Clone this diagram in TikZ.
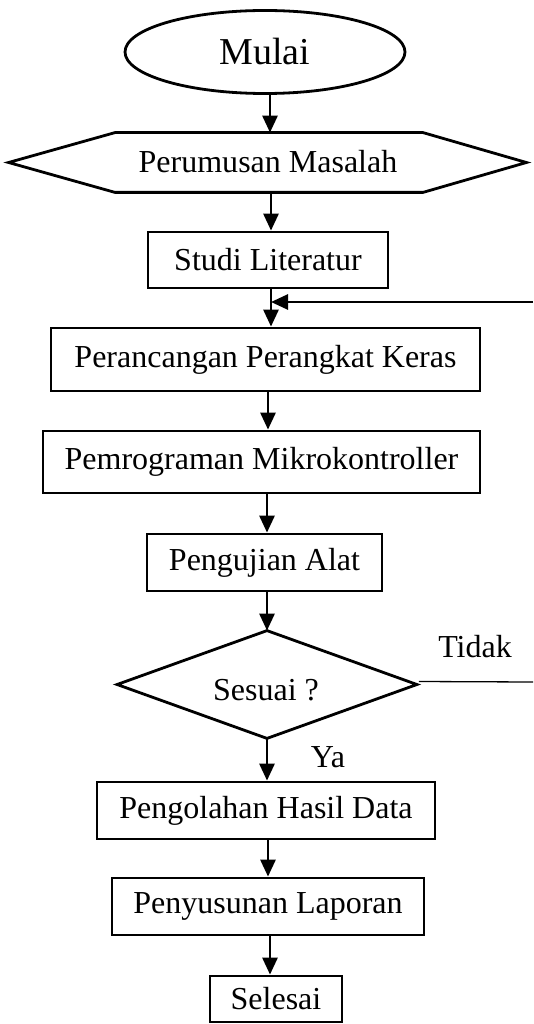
\documentclass[tikz,border=0pt]{standalone}
\usepackage{fontspec}
\setmainfont{Liberation Serif}
\usetikzlibrary{arrows.meta,shapes.geometric}
\begin{document}
\begin{tikzpicture}[x=1pt,y=-1pt,line width=2.8pt,
  txt/.style={font=\fontsize{32}{38}\selectfont},
  box/.style={draw,rectangle,inner sep=0pt,txt},
  shapebox/.style={rectangle,inner sep=0pt},
  arr/.style={-{Triangle[length=17pt,width=15pt]},line width=2.8pt},
  thin line/.style={line width=1.3pt}]
\useasboundingbox (0,0) rectangle (533,1024);

% start
\node[draw,ellipse,inner sep=0pt,minimum width=280pt,minimum height=83pt,
      font=\fontsize{38}{44}\selectfont] (mulai) at (265,52) {Mulai};

% hexagon (problem formulation)
\node[shapebox,minimum width=515pt,minimum height=57pt] (hexf) at (267.5,162.5) {};
\draw (hexf.west) -- (115,0 |- hexf.north) -- (423,0 |- hexf.north) -- (hexf.east)
      -- (423,0 |- hexf.south) -- (115,0 |- hexf.south) -- cycle;
\node[txt,inner sep=0pt] (hex) at (268,162) {Perumusan Masalah};

\node[box,minimum width=240pt,minimum height=56pt] (studi) at (268,260) {Studi Literatur};
\node[box,minimum width=429pt,minimum height=63pt] (peran) at (265.5,359.5) {Perancangan Perangkat Keras};
\node[box,minimum width=437pt,minimum height=62pt] (pemro) at (261.5,462) {Pemrograman Mikrokontroller};
\node[box,minimum width=235pt,minimum height=57pt] (uji) at (264.5,562.5) {Pengujian Alat};

% decision
\node[shapebox,minimum width=297pt,minimum height=105pt] (dia) at (267,684.5) {};
\draw (dia.north) -- (dia.east) -- (dia.south) -- (dia.west) -- cycle;
\node[txt,inner sep=0pt,yshift=-6pt,xshift=-1pt] (sesuai) at (dia.center) {Sesuai ?};

\node[box,minimum width=338pt,minimum height=57pt] (olah) at (266,810.5) {Pengolahan Hasil Data};
\node[box,minimum width=312pt,minimum height=57pt] (susun) at (268,906.5) {Penyusunan Laporan};
\node[box,minimum width=132pt,minimum height=46pt] (selesai) at (276,999) {Selesai};

% labels
\node[txt,inner sep=0pt] (tidak) at (475,647) {Tidak};
\node[txt,inner sep=0pt] (ya) at (328,757) {Ya};

% connectors
\draw[arr] (270,0 |- mulai.south) -- (270,0 |- hexf.north);
\draw[arr] (271,0 |- hexf.south) -- (271,0 |- studi.north);
\draw[arr] (271,0 |- studi.south) -- (271,0 |- peran.north);
\coordinate (fbR) at (533,302);
\coordinate (fbL) at (271,302);
\draw[arr] (fbR) -- (fbL);
\draw[arr] (268,0 |- peran.south) -- (268,0 |- pemro.north);
\draw[arr] (267,0 |- pemro.south) -- (267,0 |- uji.north);
\draw[arr] (267,0 |- uji.south) -- (dia.north);
\draw[arr] (dia.south) -- (dia.south |- olah.north);
\draw[arr] (268,0 |- olah.south) -- (268,0 |- susun.north);
\draw[arr] (270,0 |- susun.south) -- (270,0 |- selesai.north);
\coordinate (tidakR) at (533,682);
\draw[thin line] ([xshift=2pt,yshift=3pt]dia.east) -- (tidakR);
\end{tikzpicture}
\end{document}
